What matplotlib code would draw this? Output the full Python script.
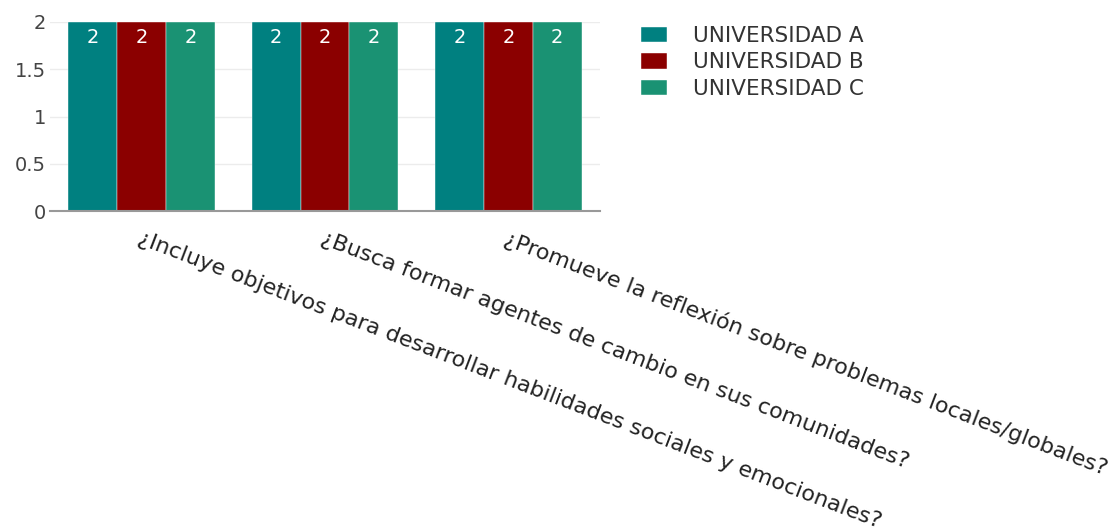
import numpy as np
import matplotlib.pyplot as plt

plt.rcParams['font.family'] = ['DejaVu Sans']

# Datos
preguntas = [
    '¿Incluye objetivos para desarrollar habilidades sociales y emocionales?',
    '¿Busca formar agentes de cambio en sus comunidades?',
    '¿Promueve la reflexión sobre problemas locales/globales?',
]
universidades = ['UNIVERSIDAD A', 'UNIVERSIDAD B', 'UNIVERSIDAD C']
uni_a = [2, 2, 2]
uni_b = [2, 2, 2]
uni_c = [2, 2, 2]
colores = ['#008080', '#8b0000', '#1a9273']

fig = plt.figure(figsize=(11.19, 5.32), dpi=100)
ax = fig.add_axes([0.0447, 0.603, 0.4915, 0.356])

x = np.arange(len(preguntas))
ancho = 0.8 / 3
series = [uni_a, uni_b, uni_c]
for i, (vals, nombre, c) in enumerate(zip(series, universidades, colores)):
    pos = x + (i - 1) * ancho
    bars = ax.bar(pos, vals, ancho, color=c, label=nombre,
                  edgecolor='white', linewidth=0.3)
    for b, v in zip(bars, vals):
        ax.text(b.get_x() + b.get_width() / 2, v - 0.17, f'{v:g}',
                ha='center', va='center', color='white', fontsize=14)

ax.set_xlim(-0.5, 2.5)
ax.set_ylim(0, 2)
ax.set_yticks([0, 0.5, 1, 1.5, 2])
ax.set_yticklabels(['0', '0.5', '1', '1.5', '2'], fontsize=14, color='#444444')
ax.yaxis.grid(True, color='#ececec', linewidth=1)
ax.set_axisbelow(True)
for s in ['top', 'right', 'left']:
    ax.spines[s].set_visible(False)
ax.spines['bottom'].set_color('#999999')
ax.spines['bottom'].set_linewidth(1.5)
ax.tick_params(axis='y', length=0, pad=3)
ax.tick_params(axis='x', length=0, pad=12)
ax.set_xticks(x)
ax.set_xticklabels(preguntas, rotation=-21, ha='left', va='top',
                   rotation_mode='anchor', fontsize=16, color='#222222')

ax.legend(loc='upper left', bbox_to_anchor=(1.04, 1.08), frameon=False,
          fontsize=15.5, handlelength=1.2, handleheight=0.75,
          handletextpad=1.2, labelspacing=0.3, labelcolor='#333333')

fig.savefig('out.png', dpi=100)
